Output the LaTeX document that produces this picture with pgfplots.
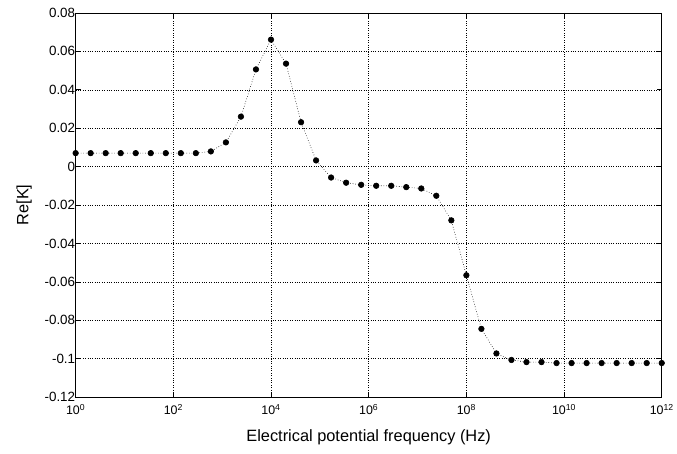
\documentclass[border=0pt]{standalone}
\usepackage{fontspec}
\setmainfont{Liberation Sans}
\usepackage{pgfplots}
\pgfplotsset{compat=1.18}
\pgfplotstableread{
x y
1 0.0070
2.0309 0.0070
4.1246 0.0070
8.3768 0.0070
17.013 0.0070
34.551 0.0070
70.170 0.0070
142.51 0.0070
289.43 0.0070
587.80 0.0079
1193.8 0.0126
2424.5 0.0260
4923.9 0.0506
10000 0.0661
20309 0.0536
41246 0.0231
83768 0.0032
1.7013e5 -0.0057
3.4551e5 -0.0084
7.0170e5 -0.0095
1.4251e6 -0.0100
2.8943e6 -0.0100
5.8780e6 -0.0107
1.1938e7 -0.0114
2.4245e7 -0.0152
4.9239e7 -0.0280
1e8 -0.0566
2.0309e8 -0.0845
4.1246e8 -0.0973
8.3768e8 -0.1007
1.7013e9 -0.1018
3.4551e9 -0.1018
7.0170e9 -0.1023
1.4251e10 -0.1023
2.8943e10 -0.1023
5.8780e10 -0.1023
1.1938e11 -0.1023
2.4245e11 -0.1023
4.9239e11 -0.1023
1e12 -0.1023
}\reK
\begin{document}
\begin{tikzpicture}
  \begin{semilogxaxis}[
    scale only axis,
    width=589bp,height=386bp,
    xmin=1,xmax=1e12,ymin=-0.12,ymax=0.08,
    xtick={1,1e2,1e4,1e6,1e8,1e10,1e12},
    xticklabels={10\textsuperscript{0},10\textsuperscript{2},10\textsuperscript{4},10\textsuperscript{6},10\textsuperscript{8},10\textsuperscript{10},10\textsuperscript{12}},
    minor xtick={},
    ytick={-0.12,-0.1,...,0.08},
    yticklabel style={/pgf/number format/fixed,/pgf/number format/precision=2,/pgf/number format/assume math mode=true,xshift=3bp},
    tick align=inside, tick pos=both,
    major tick length=5bp,
    tick style={black,line width=0.6pt},
    grid=major,
    major grid style={black,dotted,line width=0.5pt},
    axis line style={black,line width=0.8pt},
    ticklabel style={font=\fontsize{13.5}{15}\selectfont},
    xticklabel style={font=\fontsize{12.5}{15}\selectfont,yshift=-4bp},
    xlabel={Electrical potential frequency (Hz)},
    ylabel={Re[K]},
    label style={font=\fontsize{16.5}{19}\selectfont},
    xlabel style={yshift=-8bp},
    ylabel style={yshift=6bp},
    clip=false,
  ]
    \addplot[black,dotted,line width=0.6pt,mark=*,mark size=2.8bp,mark options={solid}] table[x=x,y=y] {\reK};
  \end{semilogxaxis}
  \path (current axis.south west) ++(-76bp,-57bp);
  \path (current axis.north east) ++(12bp,13bp);
\end{tikzpicture}
\end{document}
